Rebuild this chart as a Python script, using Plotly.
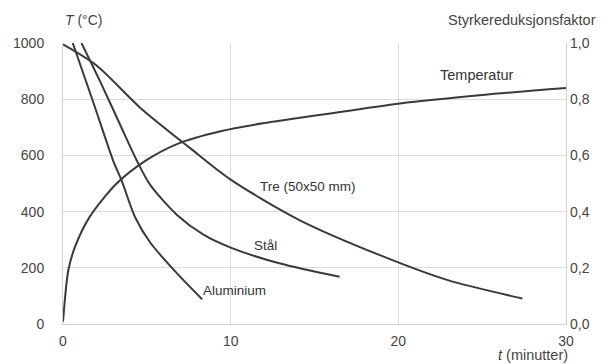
import plotly.graph_objects as go

# Temperature (°C) vs time (min)
temp_t = [0, 0.32, 0.72, 1.6, 3.2, 5.0, 6.9, 9.4, 12, 15.3, 20.1, 25, 30]
temp_T = [8, 192, 275, 382, 500, 584, 643, 686, 715, 744, 785, 815, 840]

# Strength reduction factors
alu_t = [0.58, 1.8, 3.0, 3.5, 4.3, 5.2, 6.8, 8.3]
alu_f = [1.0, 0.79, 0.58, 0.51, 0.38, 0.29, 0.18, 0.088]

steel_t = [1.1, 2.2, 3.4, 4.5, 5.2, 6.8, 8.4, 10, 12.9, 16.5]
steel_f = [1.0, 0.865, 0.71, 0.57, 0.495, 0.388, 0.317, 0.272, 0.216, 0.168]

wood_t = [0, 2.0, 4.6, 7.6, 10, 14.1, 18.9, 22.9, 27.4]
wood_f = [0.995, 0.92, 0.77, 0.625, 0.514, 0.37, 0.245, 0.157, 0.091]

x_ticks = [0, 10, 20, 30]
y_ticks = [0, 200, 400, 600, 800, 1000]
y2_ticks = [0, 0.2, 0.4, 0.6, 0.8, 1.0]
y2_labels = ["0,0", "0,2", "0,4", "0,6", "0,8", "1,0"]

LC = "#3a3a3a"
TC = "#444444"
FONT = "Liberation Sans, Arial, sans-serif"

fig = go.Figure()
fig.add_trace(go.Scatter(x=temp_t, y=temp_T, mode="lines",
                         line=dict(color=LC, width=2, shape="spline", smoothing=0.8)))
for xs, ys in [(alu_t, alu_f), (steel_t, steel_f), (wood_t, wood_f)]:
    fig.add_trace(go.Scatter(x=xs, y=ys, mode="lines", yaxis="y2",
                             line=dict(color=LC, width=2, shape="spline", smoothing=0.8)))

# The page body has an 8px margin, so the figure is sized to fit the window.
fig.update_layout(
    width=605, height=356,
    margin=dict(l=55, r=47, t=35, b=40),
    paper_bgcolor="white", plot_bgcolor="white",
    showlegend=False,
    font=dict(family=FONT, color=TC, size=14),
    xaxis=dict(range=[0, 30], tickvals=x_ticks, showgrid=True, gridcolor="#dcdcdc",
               gridwidth=1, zeroline=False, showline=True, linecolor="#d0d0d0",
               ticks="", tickfont=dict(size=14, color=TC), ticklabelstandoff=4,
               automargin=False),
    yaxis=dict(range=[0, 1000], tickvals=y_ticks, showgrid=True, gridcolor="#dcdcdc",
               zeroline=False, showline=True, linecolor="#d0d0d0", mirror=True,
               ticks="", tickfont=dict(size=14, color=TC), ticklabelstandoff=15,
               automargin=False),
    yaxis2=dict(range=[0, 1], overlaying="y", side="right", tickvals=y2_ticks,
                ticktext=y2_labels, showgrid=False, zeroline=False, showline=False,
                ticks="", tickfont=dict(size=14, color=TC), ticklabelstandoff=3,
                automargin=False),
)

ann = [
    dict(x=0, y=1, xref="paper", yref="paper", text="<i>T</i> (°C)", xanchor="left",
         yanchor="middle", yshift=23, showarrow=False, font=dict(size=14, color=TC)),
    dict(x=1, y=1, xref="paper", yref="paper", text="Styrkereduksjonsfaktor",
         xanchor="right", yanchor="middle", xshift=32, yshift=23, showarrow=False,
         font=dict(size=14.5, color=TC)),
    dict(x=1, y=0, xref="paper", yref="paper", text="<i>t</i> (minutter)",
         xanchor="right", yanchor="middle", xshift=4, yshift=-31, showarrow=False,
         font=dict(size=14.5, color=TC)),
    dict(x=24.7, y=886, text="Temperatur", showarrow=False, font=dict(size=14.5, color="#333")),
    dict(x=14.6, y=0.49, yref="y2", text="Tre (50x50 mm)", showarrow=False,
         font=dict(size=13.5, color="#333")),
    dict(x=12.1, y=0.28, yref="y2", text="Stål", showarrow=False,
         font=dict(size=13.5, color="#333")),
    dict(x=10.25, y=0.12, yref="y2", text="Aluminium", showarrow=False,
         font=dict(size=13.5, color="#333")),
]
fig.update_layout(annotations=ann)

fig.write_html("out.html")
